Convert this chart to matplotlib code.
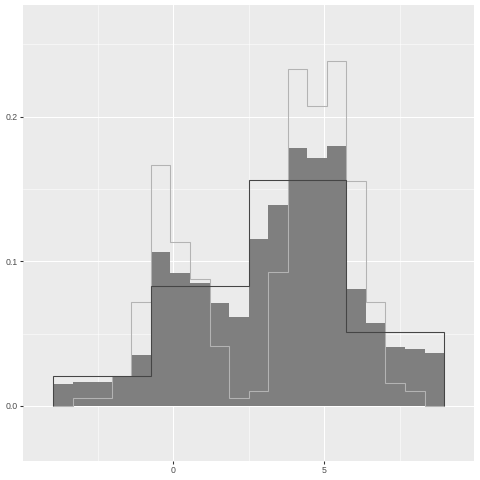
import numpy as np
import matplotlib
matplotlib.use("Agg")
import matplotlib.pyplot as plt

# bin range (20 fine bins, 4 coarse bins)
x_lo, x_hi = -3.97, 8.97
fine_edges = np.linspace(x_lo, x_hi, 21)
coarse_edges = np.linspace(x_lo, x_hi, 5)

# filled histogram (dark grey)
fill_vals = [0.0152, 0.0166, 0.0166, 0.0205, 0.0352, 0.1063, 0.0920, 0.0851, 0.0710, 0.0614,
             0.1154, 0.1390, 0.1783, 0.1714, 0.1797, 0.0807, 0.0572, 0.0407, 0.0393, 0.0366]
# light grey outline histogram
light_vals = [0.0, 0.0053, 0.0053, 0.0205, 0.0720, 0.1663, 0.1136, 0.0878, 0.0412, 0.0053,
              0.0101, 0.0929, 0.2329, 0.2074, 0.2384, 0.1557, 0.0722, 0.0156, 0.0101, 0.0]
# dark outline histogram (coarse bins)
coarse_vals = [0.0205, 0.0826, 0.1563, 0.0508]

xticks = [0, 5]
xticklabels = ["0", "5"]
yticks = [0.0, 0.1, 0.2]
yticklabels = ["0.0", "0.1", "0.2"]

plt.rcParams["font.family"] = ["Liberation Sans", "DejaVu Sans"]

fig = plt.figure(figsize=(480 / 72, 480 / 72), dpi=72)
ax = fig.add_axes([23 / 480, 19.3 / 480, 451 / 480, 455.7 / 480])
ax.set_facecolor("#EBEBEB")

widths = np.diff(fine_edges)
ax.bar(fine_edges[:-1], fill_vals, width=widths, align="edge", color="#7F7F7F", linewidth=0, zorder=2)
ax.stairs(light_vals, fine_edges, baseline=0, color="#B3B3B3", linewidth=1.07, zorder=3)
ax.stairs(coarse_vals, coarse_edges, baseline=0, color="#454545", linewidth=1.07, zorder=4)

ax.set_xlim(-4.97, 9.96)
ax.set_ylim(-0.0378, 0.2771)

ax.set_xticks(xticks)
ax.set_xticklabels(xticklabels)
ax.set_yticks(yticks)
ax.set_yticklabels(yticklabels)
ax.set_xticks([-2.5, 2.5, 7.5], minor=True)
ax.set_yticks([0.05, 0.15, 0.25], minor=True)

ax.grid(True, which="major", color="white", linewidth=1.07)
ax.grid(True, which="minor", color="white", linewidth=0.53)
ax.set_axisbelow(True)

ax.tick_params(which="major", length=2.75, width=1.07, color="#333333",
               labelsize=8.8, labelcolor="#4D4D4D", pad=2.2)
ax.tick_params(which="minor", length=0)
for s in ax.spines.values():
    s.set_visible(False)

plt.savefig("out.png", dpi=72, facecolor="white")
